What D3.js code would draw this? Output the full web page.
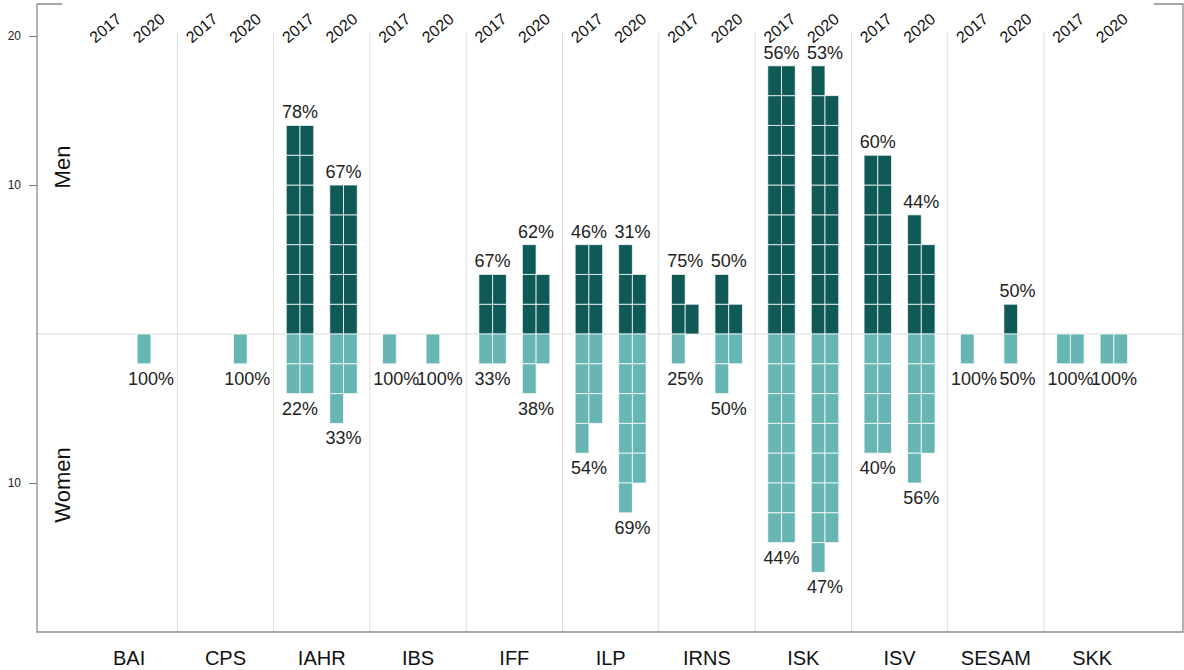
<!DOCTYPE html>
<html>
<head>
<meta charset="utf-8">
<script src="https://cdn.jsdelivr.net/npm/d3@7"></script>
<style>
  body { margin: 0; background: #fff; }
  svg { font-family: "Liberation Sans", Arial, sans-serif; }
</style>
</head>
<body>
<svg id="chart" width="1184" height="670"></svg>
<script>

const categories = ["BAI", "CPS", "IAHR", "IBS", "IFF", "ILP", "IRNS", "ISK", "ISV", "SESAM", "SKK"];
const years = ["2017", "2020"];

// head counts per category (one cell = one person)
const men2017   = [0, 0, 14, 0, 4, 6, 3, 18, 12, 0, 0];
const women2017 = [0, 0, 4, 1, 2, 7, 1, 14, 8, 1, 2];
const men2020   = [0, 0, 10, 0, 5, 5, 3, 17, 7, 1, 0];
const women2020 = [1, 1, 5, 1, 3, 11, 3, 15, 9, 1, 2];

const yTicks = [20, 10, -10];

const menColor = "#0f5a57",
      womenColor = "#68b6b4";

const svg = d3.select("#chart");

const x = d3.scaleBand()
    .domain(categories)
    .range([81, 1140.3]);

const xYear = d3.scalePoint()
    .domain(years)
    .range([-21.75, 21.75]);

// y is in "rows"; each cell is two rows tall, two cells per row
const y = d3.scaleLinear()
    .domain([-20, 22.15])
    .range([632, 4]);

const colW = 13.75;

// round half to even, the way the source rounded its shares
function pct(v, total) {
  const p = v / total * 100;
  const f = Math.floor(p);
  let r = Math.round(p);
  if (Math.abs(p - f - 0.5) < 1e-9) r = (f % 2 === 0) ? f : f + 1;
  return r + "%";
}

const data = [];
categories.forEach((c, i) => {
  data.push({cat: c, year: "2017", men: men2017[i], women: women2017[i]});
  data.push({cat: c, year: "2020", men: men2020[i], women: women2020[i]});
});

// separators between institutes
svg.append("g")
  .selectAll("line")
  .data(categories.slice(1))
  .join("line")
    .attr("x1", d => x(d))
    .attr("x2", d => x(d))
    .attr("y1", 33)
    .attr("y2", 632)
    .attr("stroke", "#dcdcdc")
    .attr("stroke-width", 1);

// zero line
svg.append("line")
    .attr("x1", 37).attr("x2", 1183)
    .attr("y1", y(0)).attr("y2", y(0))
    .attr("stroke", "#dcdcdc")
    .attr("stroke-width", 1.2);

// frame
const frame = svg.append("g")
    .attr("fill", "none")
    .attr("stroke", "#8a8a8a")
    .attr("stroke-width", 1.3);
frame.append("path").attr("d", "M62,4H37V632H1183V4H1154");

// left axis
const yAxis = d3.axisLeft(y)
    .tickValues(yTicks)
    .tickFormat(d => Math.abs(d))
    .tickSize(8)
    .tickPadding(8);

svg.append("g")
    .attr("transform", "translate(37,0)")
    .call(yAxis)
    .call(g => g.select(".domain").remove())
    .call(g => g.selectAll(".tick line").attr("stroke", "#777"))
    .call(g => g.selectAll(".tick text")
        .attr("fill", "#222")
        .style("font-size", "12px")
        .style("font-family", "Liberation Sans, Arial, sans-serif"));

// side titles
svg.append("text")
    .attr("transform", "translate(70," + 167 + ") rotate(-90)")
    .attr("text-anchor", "middle")
    .style("font-size", "22px")
    .attr("fill", "#111")
    .text("Men");

svg.append("text")
    .attr("transform", "translate(70," + 485 + ") rotate(-90)")
    .attr("text-anchor", "middle")
    .style("font-size", "22px")
    .attr("fill", "#111")
    .text("Women");

// category labels
svg.append("g")
  .selectAll("text")
  .data(categories)
  .join("text")
    .attr("x", d => x(d) + x.bandwidth() / 2)
    .attr("y", 665)
    .attr("text-anchor", "middle")
    .style("font-size", "20px")
    .attr("fill", "#111")
    .text(d => d);

function cx(d) {
  return x(d.cat) + x.bandwidth() / 2 + xYear(d.year);
}

// year labels on top
svg.append("g")
  .selectAll("text")
  .data(data)
  .join("text")
    .attr("transform", d => "translate(" + (cx(d) - 2) + ",28) rotate(-40)")
    .attr("text-anchor", "middle")
    .attr("dy", "0.35em")
    .style("font-size", "16px")
    .attr("fill", "#111")
    .text(d => d.year);

// cells
function cells(d) {
  const out = [];
  for (let k = 0; k < d.men; k++) {
    out.push({d: d, sex: "men", row: Math.floor(k / 2), col: k % 2});
  }
  for (let k = 0; k < d.women; k++) {
    out.push({d: d, sex: "women", row: Math.floor(k / 2), col: k % 2});
  }
  return out;
}

const cellData = data.flatMap(cells);

svg.append("g")
    .attr("class", "cells")
  .selectAll("rect")
  .data(cellData)
  .join("rect")
    .attr("x", c => cx(c.d) - colW + c.col * colW)
    .attr("width", colW)
    .attr("y", c => c.sex === "men" ? y(2 * (c.row + 1)) : y(-2 * c.row))
    .attr("height", y(0) - y(2))
    .attr("fill", c => c.sex === "men" ? menColor : womenColor)
    .attr("stroke", "#fff")
    .attr("stroke-opacity", 0.75)
    .attr("stroke-width", 1);

// share labels
const labels = svg.append("g")
    .style("font-size", "18px")
    .attr("fill", "#222")
    .attr("text-anchor", "middle");

labels.selectAll("text.men")
  .data(data.filter(d => d.men > 0))
  .join("text")
    .attr("class", "men")
    .attr("x", d => cx(d))
    .attr("y", d => y(2 * Math.ceil(d.men / 2)) - 7)
    .text(d => pct(d.men, d.men + d.women));

labels.selectAll("text.women")
  .data(data.filter(d => d.women > 0))
  .join("text")
    .attr("class", "women")
    .attr("x", d => cx(d))
    .attr("y", d => y(-2 * Math.ceil(d.women / 2)) + 21)
    .text(d => pct(d.women, d.men + d.women));

</script>
</body>
</html>
